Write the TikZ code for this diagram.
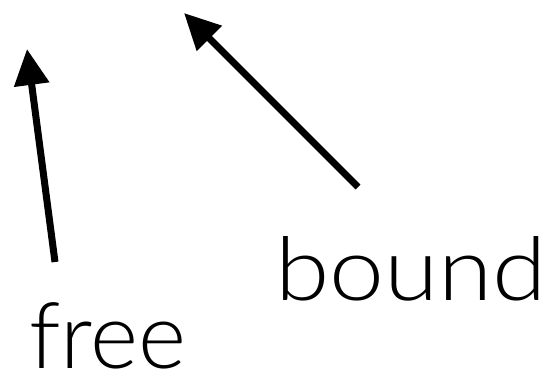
\documentclass[tikz,border=0pt]{standalone}
\usepackage{fontspec}
\setmainfont{Lato}[UprightFont=* Light]
\usetikzlibrary{arrows.meta}
\tikzset{
  bigarrow/.style={line width=7pt, -{Triangle[length=36pt,width=34pt]}},
  lbl/.style={inner sep=0pt, anchor=base west}
}
\begin{document}
\begin{tikzpicture}[x=1pt,y=-1pt]
\useasboundingbox (0,0) rectangle (548,382);
\node[lbl, font=\fontsize{92}{96}\selectfont] (free) at (29,368) {free};
\node[lbl, font=\fontsize{88}{92}\selectfont, xscale=1.12] (bound) at (275,300) {bound};
\coordinate (t1) at (55,262);
\coordinate (h1) at (27,49);
\coordinate (t2) at (358,187);
\coordinate (h2) at (184,13);
\draw[bigarrow] (t1) -- (h1);
\draw[bigarrow] (t2) -- (h2);
\end{tikzpicture}
\end{document}
